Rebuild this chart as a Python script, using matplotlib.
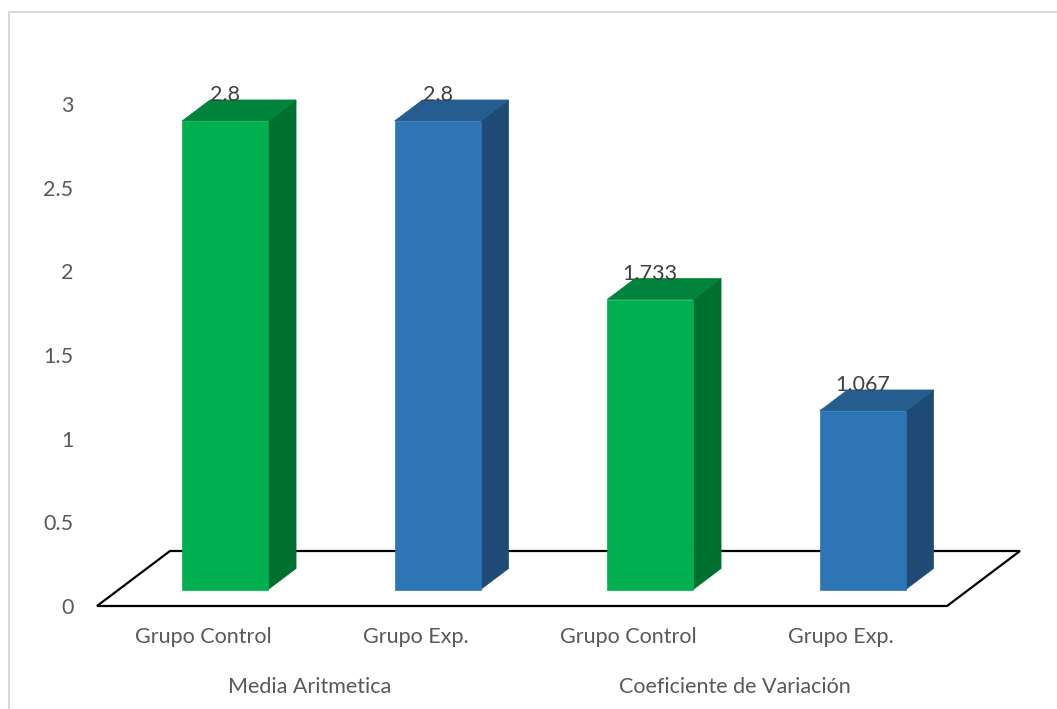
import numpy as np
import matplotlib
matplotlib.use("Agg")
import matplotlib.pyplot as plt
from matplotlib.patches import Polygon, Rectangle
import matplotlib.transforms as mtransforms

# chart data
categories = ["Grupo Control", "Grupo Exp.", "Grupo Control", "Grupo Exp."]
groups     = ["Media Aritmetica", "Coeficiente de Variación"]
values     = [2.8, 2.8, 1.733, 1.067]
yticks     = [0, 0.5, 1, 1.5, 2, 2.5, 3]

# colours for front / top / side of each series
green = {"front": "#00B050", "top": "#00843C", "side": "#00702F"}
blue  = {"front": "#2E75B6", "top": "#255D91", "side": "#1F4A75"}
styles = [green, blue, green, blue]

plt.rcParams['font.family'] = ['Lato', 'DejaVu Sans']
txt_grey = "#595959"
fs = 15.5

fig = plt.figure(figsize=(10.57, 7.09), dpi=100)
ax = fig.add_axes([97 / 1057, 103 / 709, 850 / 1057, 502 / 709])
ax.set_xlim(-0.5, 3.5)
ax.set_ylim(0, 3)
ax.patch.set_visible(False)
for s in ax.spines.values():
    s.set_visible(False)

# 3d look: depth direction (pixels), floor depth and bar depth slots
slope = 73 / 55.0
floor_depth = 55.0
bar_d0, bar_d1 = 16.5, 37.5
half_w = 0.2025


def pt(x, v, d):
    X, Y = ax.transData.transform((x, v))
    return (X + d * slope, Y + d)


ident = mtransforms.IdentityTransform()

# floor
floor = [pt(-0.5, 0, 0), pt(3.5, 0, 0), pt(3.5, 0, floor_depth), pt(-0.5, 0, floor_depth)]
ax.add_patch(Polygon(floor, closed=True, facecolor="white", edgecolor="black",
                     lw=1.6, transform=ident, clip_on=False, joinstyle="miter"))

# bars
for i, v in enumerate(values):
    st = styles[i]
    xl, xr = i - half_w, i + half_w
    front = [pt(xl, 0, bar_d0), pt(xr, 0, bar_d0), pt(xr, v, bar_d0), pt(xl, v, bar_d0)]
    side = [pt(xr, 0, bar_d0), pt(xr, 0, bar_d1), pt(xr, v, bar_d1), pt(xr, v, bar_d0)]
    top = [pt(xl, v, bar_d0), pt(xr, v, bar_d0), pt(xr, v, bar_d1), pt(xl, v, bar_d1)]
    for poly, key in [(side, "side"), (top, "top"), (front, "front")]:
        ax.add_patch(Polygon(poly, closed=True, facecolor=st[key], edgecolor=st[key],
                             lw=0.5, transform=ident, clip_on=False))
    lx, ly = pt(i, v, bar_d0)
    ax.text(lx, ly + 26, f"{v:g}", transform=ident, ha="center", va="center",
            fontsize=fs, color="#404040")

# axes ticks
ax.set_yticks(yticks)
ax.set_yticklabels([f"{t:g}" for t in yticks])
ax.set_xticks(range(len(categories)))
ax.set_xticklabels(categories)
ax.tick_params(axis="y", length=0, pad=17, labelsize=fs, labelcolor=txt_grey)
ax.tick_params(axis="x", length=0, pad=15, labelsize=fs, labelcolor=txt_grey)

# group labels
for g, name in enumerate(groups):
    ax.annotate(name, xy=(2 * g + 0.5, 0), xycoords=("data", "axes fraction"),
                xytext=(0, -58), textcoords="offset points",
                ha="center", va="center", fontsize=fs, color=txt_grey)

# chart border
fig.patches.append(Rectangle((8.5 / 1057, -0.1), 1.2, (709 - 12) / 709 + 0.1,
                             transform=fig.transFigure, fill=False,
                             edgecolor="#D9D9D9", lw=1.5))

fig.savefig("out.png", dpi=100)
